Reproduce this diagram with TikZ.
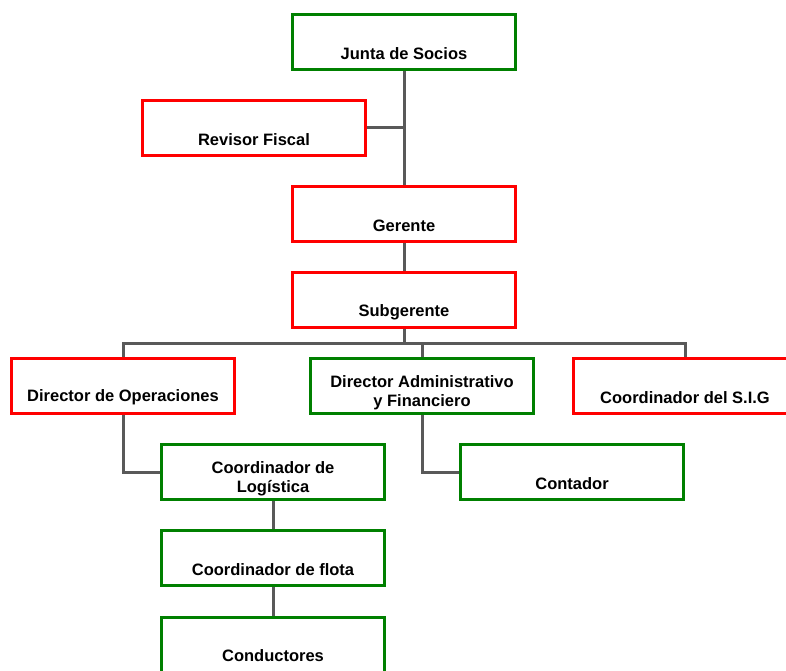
\documentclass[tikz,border=0pt]{standalone}
\usepackage{fontspec}
\setmainfont{Liberation Sans}
\definecolor{boxgreen}{RGB}{0,128,0}
\definecolor{boxred}{RGB}{255,0,0}
\definecolor{linkgray}{RGB}{89,89,89}

\begin{document}
\begin{tikzpicture}[x=1pt, y=-1pt, every node/.style={font=\bfseries\fontsize{16.5}{19}\selectfont},
    box/.style={draw=#1, line width=3pt, minimum width=223pt, minimum height=55pt, inner sep=0pt},
    txt/.style={align=center, inner sep=0pt},
    link/.style={draw=linkgray, line width=3pt}]
      \useasboundingbox (0,0) rectangle (786,671);

      % Boxes (name/x/y/colour/text drop/label)
      \foreach \n/\x/\y/\c/\dy/\t in {
        junta/404/42/boxgreen/11.5/{Junta de Socios},
        revisor/254/128/boxred/11.5/{Revisor Fiscal},
        gerente/404/214/boxred/11.5/{Gerente},
        subgerente/404/300/boxred/12/{Subgerente},
        dirop/123/386/boxred/11.5/{Director de Operaciones},
        diradm/422/386/boxgreen/6.5/{Director Administrativo\\y Financiero},
        sig/685/386/boxred/11.5/{Coordinador del S.I.G},
        coordlog/273/472/boxgreen/6.5/{Coordinador de\\Logística},
        contador/572/472/boxgreen/11.5/{Contador},
        flota/273/558/boxgreen/11.5/{Coordinador de flota},
        conductores/273/645/boxgreen/11/{Conductores}}
      {
        \node[box=\c] (\n) at (\x,\y) {};
        \node[txt] (\n-t) at ([yshift=-\dy pt]\n.center) {\t};
      }

      % Upper chain
      \draw[link] (junta.south) -- (gerente.north);
      \draw[link] (revisor.east) -- (revisor.east -| junta.south);
      \draw[link] (gerente.south) -- (subgerente.north);

      % Bus under Subgerente
      \coordinate (bus) at (404,343);
      \draw[link] (subgerente.south) -- (bus);
      \draw[link] (dirop.north) |- (bus) -| (sig.north);
      \draw[link] (diradm.north) -- (diradm.north |- bus);

      % Lower branches
      \draw[link] (dirop.south) |- (coordlog.west);
      \draw[link] (diradm.south) |- (contador.west);
      \draw[link] (coordlog.south) -- (flota.north);
      \draw[link] (flota.south) -- (conductores.north);
    \end{tikzpicture}
\end{document}
